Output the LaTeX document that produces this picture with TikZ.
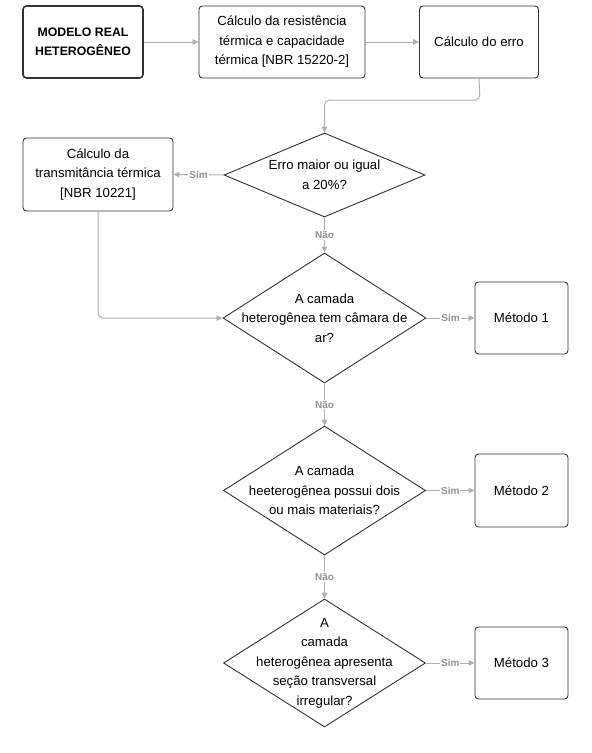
\documentclass[tikz,border=0pt]{standalone}
\usepackage{fontspec}
\setmainfont{Liberation Sans}
\usetikzlibrary{shapes.geometric,arrows.meta}
\definecolor{edgegray}{HTML}{333333}
\definecolor{conngray}{HTML}{B0B0B0}
\definecolor{labelgray}{HTML}{909090}
\begin{document}
\begin{tikzpicture}[x=1pt,y=-1pt,
  box/.style={draw=edgegray, line width=0.9pt, rounded corners=3.5pt, fill=white, align=center,
    font=\fontsize{13.2}{19.5}\selectfont, inner sep=2pt},
  dia/.style={diamond, draw=edgegray, line width=0.9pt, fill=white, inner sep=0pt},
  dtxt/.style={align=center, font=\fontsize{13.2}{19.5}\selectfont, inner sep=0pt},
  conn/.style={draw=conngray, line width=1pt, -{Triangle[length=6pt,width=5.5pt]}},
  lbl/.style={font=\fontsize{10}{11}\selectfont\bfseries, text=labelgray, fill=white, inner sep=1pt}]
\useasboundingbox (0,0) rectangle (592,753);

% boxes
\node[box, line width=1.6pt, minimum width=120pt, minimum height=72pt, font=\fontsize{12.3}{19.5}\selectfont\bfseries] (b1) at (83,42) {MODELO REAL\\HETEROGÊNEO};
\node[box, minimum width=166pt, minimum height=72pt] (b2) at (282,42) {Cálculo da resistência\\térmica e capacidade\\térmica [NBR 15220-2]};
\node[box, minimum width=119pt, minimum height=72pt] (b3) at (479,42) {Cálculo do erro};
\node[box, minimum width=150pt, minimum height=73pt] (b4) at (98,174.5) {Cálculo da\\transmitância térmica\\{[NBR 10221]}};
\node[box, minimum width=93pt, minimum height=72pt] (m1) at (521.5,318) {Método 1};
\node[box, minimum width=93pt, minimum height=73pt] (m2) at (521.5,490.5) {Método 2};
\node[box, minimum width=93pt, minimum height=72pt] (m3) at (521.5,663) {Método 3};

% diamonds
\node[dia, minimum width=201pt, minimum height=84pt] (d1) at (324.5,175) {};
\node[dtxt] (d1t) at (d1.center) {Erro maior ou igual\\a 20\%?};
\node[dia, minimum width=203pt, minimum height=130pt] (d2) at (324.5,318) {};
\node[dtxt] (d2t) at (d2.center) {A camada\\heterogênea tem câmara de\\ar?};
\node[dia, minimum width=202pt, minimum height=129pt] (d3) at (324.5,490.5) {};
\node[dtxt] (d3t) at (d3.center) {A camada\\heeterogênea possui dois\\ou mais materiais?};
\node[dia, minimum width=202pt, minimum height=128pt] (d4) at (324.5,663) {};
\node[dtxt] (d4t) at (d4.center) {A\\camada\\heterogênea apresenta\\seção transversal\\irregular?};

% connectors
\draw[conn] (b1.east) -- (b2.west);
\draw[conn] (b2.east) -- (b3.west);
\coordinate (c1) at (480,100);
\draw[conn, rounded corners=5pt] (b3.south) -- (c1) -- (c1 -| d1.north) -- (d1.north);
\draw[conn] (d1.west) -- node[lbl] {Sim} (b4.east);
\draw[conn] (d1.south) -- node[lbl] {Não} (d2.north);
\draw[conn, rounded corners=5pt] (b4.south) -- (b4.south |- d2.west) -- (d2.west);
\draw[conn] (d2.east) -- node[lbl] {Sim} (m1.west);
\draw[conn] (d2.south) -- node[lbl] {Não} (d3.north);
\draw[conn] (d3.east) -- node[lbl] {Sim} (m2.west);
\draw[conn] (d3.south) -- node[lbl] {Não} (d4.north);
\draw[conn] (d4.east) -- node[lbl] {Sim} (m3.west);
\end{tikzpicture}
\end{document}
